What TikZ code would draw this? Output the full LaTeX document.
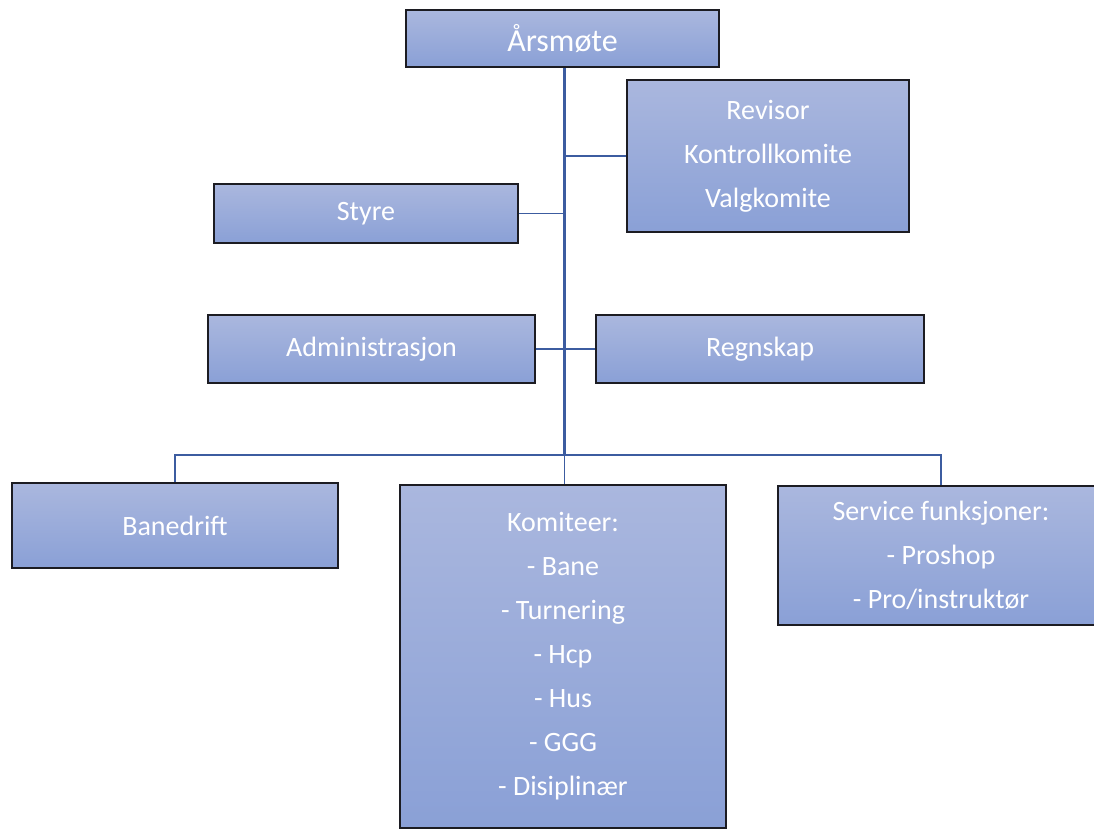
\documentclass[tikz,border=0pt]{standalone}
\usepackage{fontspec}
\setmainfont{Carlito}
\definecolor{boxtop}{RGB}{170,183,222}
\definecolor{boxbot}{RGB}{138,160,214}
\definecolor{boxline}{RGB}{28,28,34}
\definecolor{conn}{RGB}{60,92,160}
\tikzset{
  orgbox/.style={rectangle, draw=boxline, line width=1.3pt, top color=boxtop, bottom color=boxbot,
    text=white, inner sep=0pt, align=center, font=\fontsize{21}{33}\selectfont},
  mainline/.style={draw=conn, line width=2.2pt},
  branch/.style={draw=conn, line width=1.1pt},
  thinbranch/.style={draw=conn, line width=0.8pt},
}
\begin{document}
\begin{tikzpicture}[x=0.75pt,y=-0.75pt]
\useasboundingbox (0,0) rectangle (1094,830);
\node[orgbox, minimum width=313*0.75pt, minimum height=57*0.75pt, font=\fontsize{24}{30}\selectfont] (ars) at (562.5,38.5) {Årsmøte};
\node[orgbox, minimum width=282*0.75pt, minimum height=152*0.75pt] (rev) at (768,156) {Revisor\\Kontrollkomite\\Valgkomite};
\node[orgbox, minimum width=304*0.75pt, minimum height=59*0.75pt] (styre) at (366,213.5) {Styre};
\node[orgbox, minimum width=327*0.75pt, minimum height=68*0.75pt] (adm) at (371.5,349) {Administrasjon};
\node[orgbox, minimum width=328*0.75pt, minimum height=68*0.75pt] (regn) at (760,349) {Regnskap};
\node[orgbox, minimum width=326*0.75pt, minimum height=85*0.75pt] (bane) at (175,525.5) {Banedrift};
\node[orgbox, minimum width=326*0.75pt, minimum height=343*0.75pt] (komit) at (563,656.5) {Komiteer:\\- Bane\\- Turnering\\- Hcp\\- Hus\\- GGG\\- Disiplinær};
\node[orgbox, minimum width=326*0.75pt, minimum height=139*0.75pt] (serv) at (941,555.5) {Service funksjoner:\\- Proshop\\- Pro/instruktør};
\coordinate (j) at (564.5,455);
\draw[mainline] (ars.south -| j) -- (j);
\draw[branch] (rev.west) -- (rev.west -| j);
\draw[branch] (styre.east) -- (styre.east -| j);
\draw[branch] (adm.east) -- (regn.west);
\draw[thinbranch] (bane.north) -- (bane.north |- j) -- (serv.north |- j) -- (serv.north);
\draw[thinbranch] (j) -- (komit.north -| j);
\end{tikzpicture}
\end{document}
